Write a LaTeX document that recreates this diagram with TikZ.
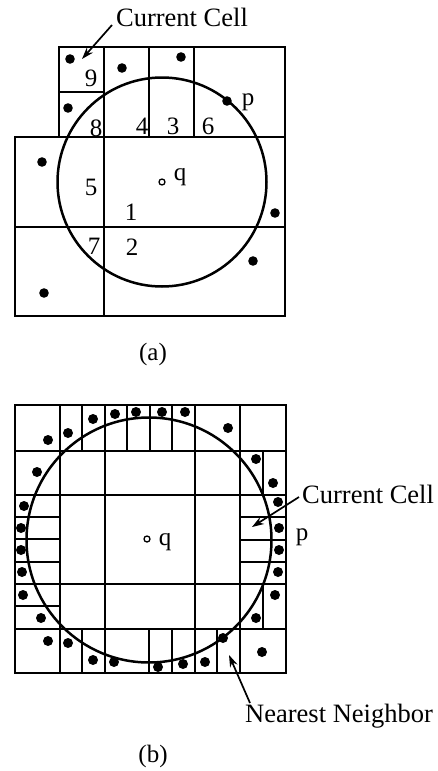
\documentclass[tikz,border=0pt]{standalone}
\usepackage{fontspec}
\setmainfont{Liberation Serif}
\usetikzlibrary{arrows.meta}
\begin{document}
\begin{tikzpicture}[x=1pt,y=-1pt,
  grid/.style={line width=1.9pt,line cap=rect},
  circ/.style={line width=2.5pt},
  dot/.style={fill=black},
  hollow/.style={line width=1.3pt,fill=white},
  lab/.style={inner sep=0pt,font=\fontsize{26.5}{30}\selectfont},
  num/.style={inner sep=0pt,font=\fontsize{25}{29}\selectfont},
  arr/.style={line width=1.7pt,-{Stealth[length=12pt,width=8pt]}}]
\useasboundingbox (0,0) rectangle (438,771);
% ---------------- (a) ----------------
\draw[grid] (59,47) rectangle (285,137);
\draw[grid] (15,137) rectangle (285,316);
\foreach \x in {104,149,194} \draw[grid] (\x,47) -- (\x,137);
\draw[grid] (59,92) -- (104,92);
\draw[grid] (15,227) -- (285,227);
\draw[grid] (104,137) -- (104,316);
\draw[circ] (162,182) circle (104.5);
\foreach \p in {(70,59),(122,68),(181,57),(68,108),(227,101),(42,162),(275,213),(253,261),(44,293)}
  \fill[dot] \p circle (4.8);
\draw[hollow] (162,182) circle (3);
\node[num] (qa) at (180,177) {q};
\node[num] (pa) at (248,102) {p};
\node[num] (n9) at (91,78) {9};
\node[num] (n8) at (96,128) {8};
\node[num] (n4) at (142,126) {4};
\node[num] (n3) at (173,126) {3};
\node[num] (n6) at (208,126) {6};
\node[num] (n5) at (91,187) {5};
\node[num] (n1) at (131,212) {1};
\node[num] (n7) at (94,246) {7};
\node[num] (n2) at (132,247) {2};
\node[lab] (cca) at (182,17) {Current Cell};
\coordinate (ccas) at (112,25);
\coordinate (ccat) at (82,59);
\draw[arr] (ccas) -- (ccat);
\node[num] (la) at (153,354) {(a)};
% ---------------- (b) ----------------
\draw[grid] (15,405) rectangle (286,673);
\foreach \y in {451,495,584,629} \draw[grid] (15,\y) -- (286,\y);
\foreach \x in {60,105,195,240} \draw[grid] (\x,405) -- (\x,673);
\foreach \x in {82,127,150,172} \draw[grid] (\x,405) -- (\x,451);
\foreach \x in {82,149,172,217} \draw[grid] (\x,629) -- (\x,673);
\foreach \y in {517,539,562,606} \draw[grid] (15,\y) -- (60,\y);
\foreach \y in {517,540,562} \draw[grid] (240,\y) -- (286,\y);
\draw[grid] (263,451) -- (263,495);
\draw[grid] (263,584) -- (263,629);
\draw[circ] (149,540) circle (122.5);
\foreach \p in {(48,440),(68,433),(93,419),(115,414),(136,412),(162,412),(185,412),(228,428),
  (256,459),(273,483),(278,502),(279,528),(279,550),(278,572),(275,595),(256,618),(262,652),
  (223,638),(205,662),(183,664),(158,667),(114,662),(93,660),(68,643),(48,641),
  (41,618),(23,595),(22,572),(21,550),(21,528),(24,506),(37,472)}
  \fill[dot] \p circle (5);
\draw[hollow] (147,539) circle (3);
\node[num] (qb) at (165,542) {q};
\node[num] (pb) at (302,537) {p};
\node[lab,anchor=west] (ccb) at (302,494) {Current Cell};
\coordinate (ccbs) at (299,497);
\coordinate (ccbt) at (252,527);
\draw[arr] (ccbs) -- (ccbt);
\node[lab,anchor=west] (nn) at (245,716) {Nearest Neighbor};
\coordinate (nns) at (250,703);
\coordinate (nnt) at (229,655);
\draw[arr] (nns) -- (nnt);
\node[num] (lb) at (153,756) {(b)};
\end{tikzpicture}
\end{document}
